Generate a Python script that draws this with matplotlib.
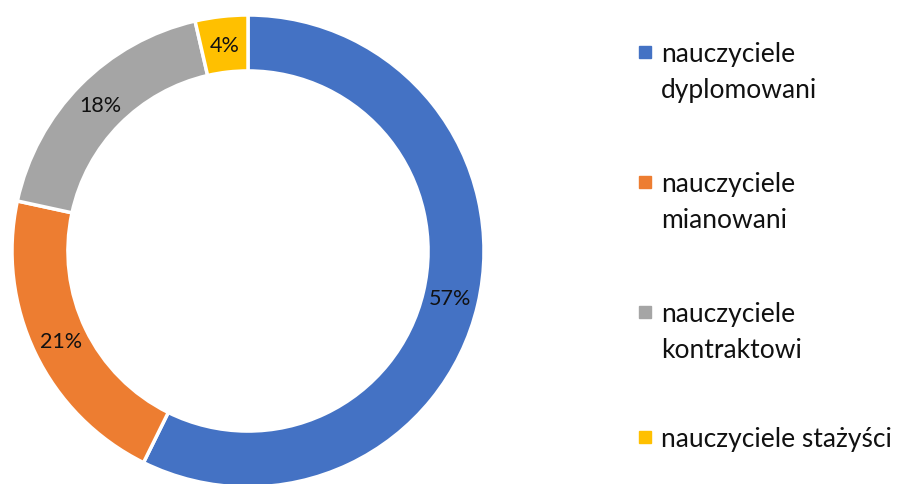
import matplotlib.pyplot as plt
from matplotlib.patches import Rectangle

labels = ["nauczyciele\ndyplomowani", "nauczyciele\nmianowani",
          "nauczyciele\nkontraktowi", "nauczyciele stażyści"]
shares = [57.3, 21.1, 18.0, 3.6]
colors = ["#4472C4", "#ED7D31", "#A5A5A5", "#FFC000"]

plt.rcParams['font.family'] = ['Lato', 'DejaVu Sans']

W, H = 898, 485
fig = plt.figure(figsize=(W / 100, H / 100), dpi=100)

# donut: centre (248, 252) px from top-left, outer radius 236 px
cx, cy, r = 248, 252, 236
ax = fig.add_axes([(cx - r) / W, (H - cy - r) / H, 2 * r / W, 2 * r / H])
wedges, texts, autotexts = ax.pie(
    shares, colors=colors, startangle=90, counterclock=False,
    autopct='%1.0f%%', pctdistance=0.88,
    wedgeprops=dict(width=0.237, edgecolor='white', linewidth=2.5),
    textprops=dict(fontsize=15.5, color='#111111'))
ax.set_xlim(-1, 1)
ax.set_ylim(-1, 1)
ax.set_aspect('equal')

# legend, drawn by hand so the marker sits on the first line
first_baseline = [62, 192, 322, 447]
for lab, col, yb in zip(labels, colors, first_baseline):
    fig.add_artist(Rectangle((639 / W, 1 - (yb - 3) / H), 12 / W, 12 / H,
                             transform=fig.transFigure, color=col))
    for i, line in enumerate(lab.split("\n")):
        fig.text(661 / W, 1 - (yb + 36 * i) / H, line, fontsize=19,
                 va='baseline', ha='left', color='#111111')

fig.savefig("out.png", dpi=100)
